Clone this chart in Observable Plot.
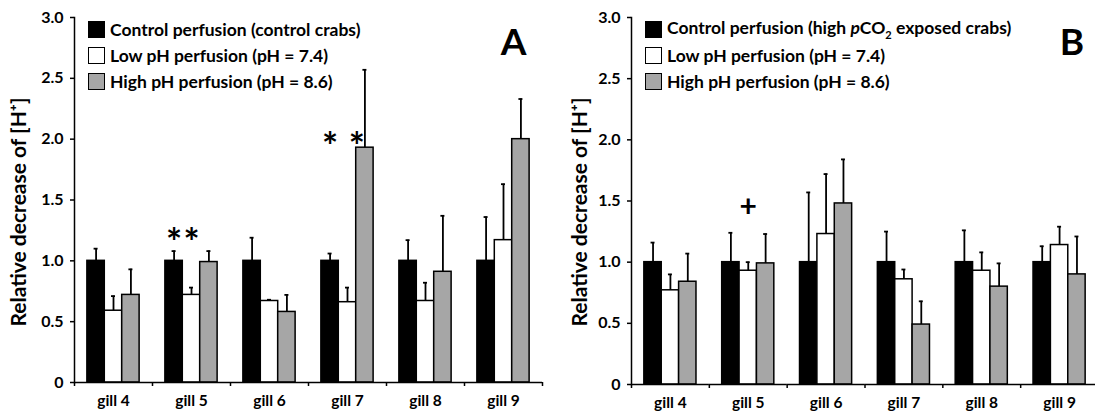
<!DOCTYPE html>
<html>
<head>
<meta charset="utf-8">
<script src="https://cdn.jsdelivr.net/npm/d3@7"></script>
<script src="https://cdn.jsdelivr.net/npm/@observablehq/plot@0.6"></script>
<style>
  html, body { margin: 0; padding: 0; background: #fff; overflow: hidden; }
  #wrap { position: relative; width: 1095px; height: 414px; overflow: hidden; font-family: Lato, "Open Sans", sans-serif; color: #000; }
  .panel { position: absolute; top: 0; height: 414px; }
  .panel svg { display: block; }
  .legend { position: absolute; top: 16px; }
  .row { display: flex; align-items: center; height: 26px; }
  .box { width: 15px; height: 15px; border: 1.5px solid #000; }
  .lab { margin-left: 5px; font-size: 17.5px; font-weight: bold; white-space: nowrap; }
  .letter { position: absolute; width: 60px; text-align: center; font-size: 37px; line-height: 37px; font-weight: bold; top: 22px; }
  .ylab { position: absolute; top: 212px; font-size: 21px; font-weight: bold; white-space: nowrap; transform: translate(-50%, -50%) rotate(-90deg); }
</style>
</head>
<body>
<div id="wrap"></div>
<script>
// ---- data ----
const gills = ["gill 4", "gill 5", "gill 6", "gill 7", "gill 8", "gill 9"];
const conditions = ["Control perfusion", "Low pH perfusion", "High pH perfusion"];
const fills = ["#000000", "#ffffff", "#a6a6a6"];
const yTicks = [0, 0.5, 1.0, 1.5, 2.0, 2.5, 3.0];
const yLabel = "Relative decrease of [H\u207A]";

const legendA = ["Control perfusion (control crabs)", "Low pH perfusion (pH = 7.4)", "High pH perfusion (pH = 8.6)"];
const legendB = ["Control perfusion (high <i>p</i>CO<sub style=\"font-size:11px\">2</sub> exposed crabs)", "Low pH perfusion (pH = 7.4)", "High pH perfusion (pH = 8.6)"];

// Panel A (control crabs)
const aControl = [1, 1, 1, 1, 1, 1];
const aControlSE = [0.10, 0.08, 0.19, 0.06, 0.17, 0.36];
const aLow = [0.59, 0.72, 0.67, 0.66, 0.67, 1.17];
const aLowSE = [0.12, 0.06, 0.01, 0.12, 0.15, 0.46];
const aHigh = [0.72, 0.99, 0.58, 1.93, 0.91, 2.00];
const aHighSE = [0.21, 0.09, 0.14, 0.64, 0.46, 0.33];

// Panel B (high pCO2 exposed crabs)
const bControl = [1, 1, 1, 1, 1, 1];
const bControlSE = [0.16, 0.24, 0.57, 0.25, 0.26, 0.13];
const bLow = [0.77, 0.93, 1.23, 0.86, 0.93, 1.14];
const bLowSE = [0.13, 0.07, 0.49, 0.08, 0.15, 0.15];
const bHigh = [0.84, 0.99, 1.48, 0.49, 0.80, 0.90];
const bHighSE = [0.23, 0.24, 0.36, 0.19, 0.19, 0.31];

// significance marks
const annA = [
  {gill: "gill 5", cond: "Control perfusion", y: 1.22, t: "*"},
  {gill: "gill 5", cond: "Low pH perfusion", y: 1.22, t: "*"},
  {gill: "gill 7", cond: "Control perfusion", y: 2.01, t: "*"}
];
const annA2 = [
  {gill: "gill 7", cond: "High pH perfusion", y: 2.01, t: "*"}
];
const annB = [
  {gill: "gill 5", cond: "Low pH perfusion", y: 1.45, t: "+"}
];

function rows(series) {
  const out = [];
  series.forEach(([means, ses], k) => {
    gills.forEach((g, i) => {
      out.push({gill: g, cond: conditions[k], value: means[i], top: means[i] + ses[i]});
    });
  });
  return out;
}

function panel({data, ann, ann2, width, marginLeft, marginRight, marginBottom}) {
  const bw = (width - marginLeft - marginRight) / gills.length;
  const isStar = ann[0].t === "*";
  const marks = [
    Plot.barY(data, {fx: "gill", x: "cond", y: "value", fill: "cond", stroke: "#000", strokeWidth: 1.5}),
    Plot.ruleX(data, {fx: "gill", x: "cond", y1: "value", y2: "top", stroke: "#000", strokeWidth: 1.8}),
    Plot.tickY(data, {fx: "gill", x: "cond", y: "top", stroke: "#000", strokeWidth: 1.8, insetLeft: 6.7, insetRight: 6.7}),
    Plot.ruleY([0], {stroke: "#000", strokeWidth: 1.5}),
    Plot.frame({anchor: "left", facetAnchor: "left", stroke: "#000", strokeWidth: 1.5}),
    Plot.axisY({ticks: yTicks, tickFormat: d => d === 0 ? "0" : d.toFixed(1), tickSize: 4, tickPadding: 7, label: null, stroke: "#000", strokeWidth: 1.5, fontSize: 16}),
    Plot.axisFx({anchor: "bottom", tickSize: 0, tickPadding: 12, label: null, fontSize: 15.5}),
    Plot.axisFx({anchor: "bottom", tickSize: 4, tickFormat: () => "", dx: -bw / 2, label: null, strokeWidth: 1.5}),
    Plot.axisFx({anchor: "bottom", ticks: [gills[gills.length - 1]], tickSize: 4, tickFormat: () => "", dx: bw / 2, label: null, strokeWidth: 1.5}),
    Plot.text(ann, {fx: "gill", x: "cond", y: "y", text: "t", fontSize: isStar ? 38 : 30, fontWeight: "bold", dy: isStar ? 10 : 0})
  ];
  if (ann2) marks.push(Plot.text(ann2, {fx: "gill", x: "cond", y: "y", text: "t", fontSize: 38, fontWeight: "bold", dy: 10, dx: -8}));
  return Plot.plot({
    width, height: 414, marginLeft, marginRight, marginTop: 17, marginBottom,
    style: {fontFamily: "Lato, 'Open Sans', sans-serif", fontSize: "15px", fontWeight: "bold", color: "#000", background: "transparent", overflow: "visible"},
    fx: {domain: gills, padding: 0, round: false},
    x: {domain: conditions, paddingInner: 0, paddingOuter: 0.74, round: false, axis: null},
    y: {domain: [0, 3]},
    color: {domain: conditions, range: fills},
    marks
  });
}

function addPanel({left, width, svg, legend, legendLeft, letter, letterLeft, ylabLeft}) {
  const wrap = document.getElementById("wrap");
  const div = document.createElement("div");
  div.className = "panel";
  div.style.left = left + "px";
  div.style.width = width + "px";
  div.appendChild(svg);
  const lg = document.createElement("div");
  lg.className = "legend";
  lg.style.left = legendLeft + "px";
  legend.forEach((txt, k) => {
    const r = document.createElement("div");
    r.className = "row";
    const b = document.createElement("span");
    b.className = "box";
    b.style.background = fills[k];
    const l = document.createElement("span");
    l.className = "lab";
    l.innerHTML = txt;
    r.appendChild(b); r.appendChild(l);
    lg.appendChild(r);
  });
  div.appendChild(lg);
  const le = document.createElement("div");
  le.className = "letter";
  le.style.left = letterLeft + "px";
  le.textContent = letter;
  div.appendChild(le);
  const yl = document.createElement("div");
  yl.className = "ylab";
  yl.style.left = ylabLeft + "px";
  yl.textContent = yLabel;
  div.appendChild(yl);
  wrap.appendChild(div);
}

const dataA = rows([[aControl, aControlSE], [aLow, aLowSE], [aHigh, aHighSE]]);
const dataB = rows([[bControl, bControlSE], [bLow, bLowSE], [bHigh, bHighSE]]);

addPanel({
  left: 0, width: 548,
  svg: panel({data: dataA, ann: annA, ann2: annA2, width: 548, marginLeft: 74, marginRight: 6, marginBottom: 32}),
  legend: legendA, legendLeft: 88, letter: "A", letterLeft: 483.5, ylabLeft: 17
});
addPanel({
  left: 548, width: 550,
  svg: panel({data: dataB, ann: annB, width: 550, marginLeft: 83, marginRight: 0, marginBottom: 30}),
  legend: legendB, legendLeft: 97, letter: "B", letterLeft: 494, ylabLeft: 30
});
</script>
</body>
</html>
